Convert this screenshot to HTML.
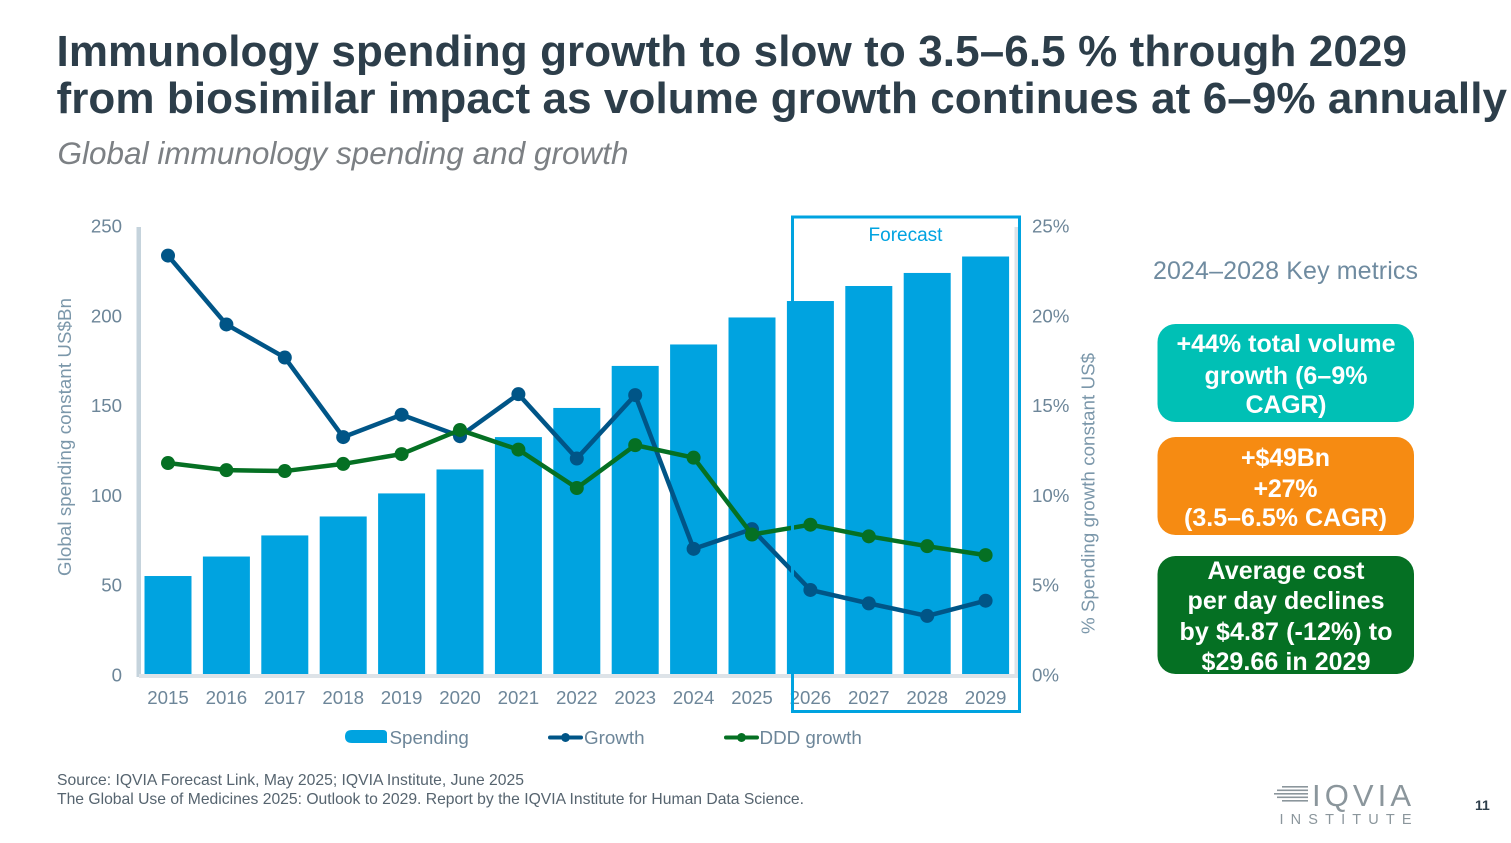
<!DOCTYPE html>
<html lang="en">
<head>
<meta charset="utf-8">
<title>Immunology spending growth</title>
<style>
html,body{margin:0;padding:0;background:#fff;width:1511px;height:843px;overflow:hidden}
svg{display:block;font-family:"Liberation Sans",sans-serif}
.tick{font-size:18.7px;fill:#6d8699}
.legend{font-size:18.8px;fill:#6d8699}
.boxtext{font-size:25px;font-weight:bold;fill:#fff;text-anchor:middle}
.src{font-size:15.7px;fill:#56646f}
</style>
</head>
<body>
<svg id="slide" width="1511" height="843" viewBox="0 0 1511 843">
  <text x="56.500" y="66" font-size="44" font-weight="bold" fill="#2d3e4a" textLength="1350.500" lengthAdjust="spacing">Immunology spending growth to slow to 3.5–6.5 % through 2029</text>
  <text x="56.500" y="113" font-size="44" font-weight="bold" fill="#2d3e4a" textLength="1450.500" lengthAdjust="spacing">from biosimilar impact as volume growth continues at 6–9% annually</text>
  <text x="57.500" y="164" font-size="31.500" font-style="italic" fill="#7c8084" textLength="571" lengthAdjust="spacing">Global immunology spending and growth</text>

  <g id="chart">
    <rect x="136.500" y="227" width="4.500" height="450" fill="#c5d3dc"/>
    <rect x="139" y="674" width="880" height="4" fill="#dde3e8"/>
    <rect x="1014.500" y="227" width="4" height="451" fill="#dde3e8"/>
    <g id="ticks-left"></g>
    <g id="ticks-right"></g>
    <g id="ticks-x"></g>
    <g id="bars"></g>
    <g id="growth-series"></g>
    <g id="ddd-series"></g>
    <rect x="792.500" y="217" width="227" height="494.500" fill="none" stroke="#00a3e0" stroke-width="3"/>
    <text x="905.500" y="241" font-size="19" fill="#00a3e0" text-anchor="middle">Forecast</text>
    <text transform="translate(71,437) rotate(-90)" font-size="18.700" fill="#7b97aa" text-anchor="middle" textLength="278" lengthAdjust="spacing">Global spending constant US$Bn</text>
    <text transform="translate(1094.500,493.500) rotate(-90)" font-size="18.700" fill="#7b97aa" text-anchor="middle" textLength="281" lengthAdjust="spacing">% Spending growth constant US$</text>
  </g>

  <g>
    <g>
      <path d="M352 730H383Q387 730 387 734V743H352Q345 743 345 736.500Q345 730 352 730Z" fill="#00a3e0"/>
      <text x="389.500" y="744" class="legend">Spending</text>
    </g>
    <g>
      <line x1="550" y1="737.500" x2="581" y2="737.500" stroke="#005587" stroke-width="4" stroke-linecap="round"/>
      <circle cx="565.500" cy="737.500" r="4.500" fill="#005587"/>
      <text x="584" y="744" class="legend">Growth</text>
    </g>
    <g>
      <line x1="726" y1="737.500" x2="757" y2="737.500" stroke="#057023" stroke-width="4" stroke-linecap="round"/>
      <circle cx="741.500" cy="737.500" r="4.500" fill="#057023"/>
      <text x="759.500" y="744" class="legend">DDD growth</text>
    </g>
  </g>

  <text x="1285.500" y="279" font-size="25" fill="#6f8ba0" text-anchor="middle" textLength="265" lengthAdjust="spacing">2024–2028 Key metrics</text>

  <g>
    <rect x="1157.500" y="324" width="256.500" height="98" rx="18" fill="#00c0b5"/>
    <text x="1286" y="352" class="boxtext" textLength="219" lengthAdjust="spacing">+44% total volume</text>
    <text x="1286" y="384" class="boxtext" textLength="163" lengthAdjust="spacing">growth (6–9%</text>
    <text x="1286" y="413" class="boxtext" textLength="81" lengthAdjust="spacing">CAGR)</text>
  </g>
  <g>
    <rect x="1157.500" y="437" width="256.500" height="98" rx="18" fill="#f68b12"/>
    <text x="1285.500" y="466" class="boxtext" textLength="89" lengthAdjust="spacing">+$49Bn</text>
    <text x="1285.500" y="497" class="boxtext" textLength="64" lengthAdjust="spacing">+27%</text>
    <text x="1285.500" y="526" class="boxtext" textLength="203" lengthAdjust="spacing">(3.5–6.5% CAGR)</text>
  </g>
  <g>
    <rect x="1157.500" y="556" width="256.500" height="118" rx="18" fill="#057023"/>
    <text x="1286" y="579" class="boxtext" textLength="157" lengthAdjust="spacing">Average cost</text>
    <text x="1286" y="609" class="boxtext" textLength="197" lengthAdjust="spacing">per day declines</text>
    <text x="1286" y="640" class="boxtext" textLength="213" lengthAdjust="spacing">by $4.87 (-12%) to</text>
    <text x="1286" y="670" class="boxtext" textLength="169" lengthAdjust="spacing">$29.66 in 2029</text>
  </g>

  <text x="57" y="785" class="src" textLength="467" lengthAdjust="spacing">Source: IQVIA Forecast Link, May 2025; IQVIA Institute, June 2025</text>
  <text x="57" y="804" class="src" textLength="747" lengthAdjust="spacing">The Global Use of Medicines 2025: Outlook to 2029. Report by the IQVIA Institute for Human Data Science.</text>

  <g>
    <g fill="#8b969c">
      <rect x="1282" y="786" width="26" height="1.600"/>
      <rect x="1277" y="789.500" width="31" height="1.600"/>
      <rect x="1274" y="793" width="34" height="1.600"/>
      <rect x="1277" y="796.500" width="31" height="1.600"/>
      <rect x="1282" y="800" width="26" height="1.600"/>
    </g>
    <text x="1312" y="806" font-size="31" fill="#8b969c" textLength="99" lengthAdjust="spacing">IQVIA</text>
    <text x="1279.500" y="824" font-size="14.500" fill="#8b969c" textLength="132" lengthAdjust="spacing">INSTITUTE</text>
  </g>
  <text x="1475" y="810" font-size="14" font-weight="bold" fill="#2d3e4a">11</text>
</svg>

<script>
const years = [2015,2016,2017,2018,2019,2020,2021,2022,2023,2024,2025,2026,2027,2028,2029];
const spending = [54.8,65.7,77.5,88.1,101,114.4,132.5,148.8,172.3,184.3,199.4,208.6,217,224.3,233.5];
const growth = [23.4,19.55,17.7,13.25,14.5,13.3,15.65,12.05,15.6,7.0,8.1,4.7,3.95,3.25,4.1];
const dddGrowth = [11.8,11.4,11.35,11.75,12.3,13.65,12.55,10.4,12.8,12.1,7.8,8.35,7.7,7.15,6.65];
const leftTicks = [0,50,100,150,200,250];
const rightTicks = ["0%","5%","10%","15%","20%","25%"];
const rightTickValues = [0,5,10,15,20,25];

const NS = 'http://www.w3.org/2000/svg';
const plotBottom = 674, plotTop = 227, firstX = 168, stepX = 58.4, barWidth = 47;
const labelBottom = 681.5, labelTop = 232.7;
function xScale(i){ return firstX + i * stepX; }
function ySpend(v){ return plotBottom - v / 250 * (plotBottom - plotTop); }
function yPct(v){ return plotBottom - v / 25 * (plotBottom - plotTop); }
function yLabelSpend(v){ return labelBottom - v / 250 * (labelBottom - labelTop); }
function yLabelPct(v){ return labelBottom - v / 25 * (labelBottom - labelTop); }

function make(tag, parentId, props){
  const el = document.createElementNS(NS, tag);
  for (const k in props) el.setAttribute(k, props[k]);
  document.getElementById(parentId).appendChild(el);
  return el;
}

leftTicks.forEach(function(t){
  const el = make('text', 'ticks-left', {x:122, y:yLabelSpend(t), 'text-anchor':'end', 'class':'tick'});
  
  
  el.textContent = t;
});

rightTicks.forEach(function(t, i){
  const el = make('text', 'ticks-right', {x:1032, y:yLabelPct(rightTickValues[i]), 'class':'tick'});
  
  
  el.textContent = t;
});

years.forEach(function(y, i){
  const el = make('text', 'ticks-x', {x:xScale(i), y:704, 'text-anchor':'middle', 'class':'tick'});
  
  
  el.textContent = y;
});

spending.forEach(function(v, i){
  const el = make('rect', 'bars', {x:xScale(i)-barWidth/2, y:ySpend(v), width:barWidth, height:plotBottom-ySpend(v), fill:'#00a3e0'});
  
  
});

function drawSeries(values, parentId, color, label){
  const pts = values.map(function(v, i){ return xScale(i) + ',' + yPct(v); }).join(' ');
  const line = make('polyline', parentId, {points:pts, fill:'none', stroke:color, 'stroke-width':4.5, 'stroke-linejoin':'round'});
  
  
  values.forEach(function(v, i){
    const dot = make('circle', parentId, {cx:xScale(i), cy:yPct(v), r:7, fill:color});
    
    
  });
}
drawSeries(growth, 'growth-series', '#005587', 'growth');
drawSeries(dddGrowth, 'ddd-series', '#057023', 'ddd-growth');
</script>
</body>
</html>
